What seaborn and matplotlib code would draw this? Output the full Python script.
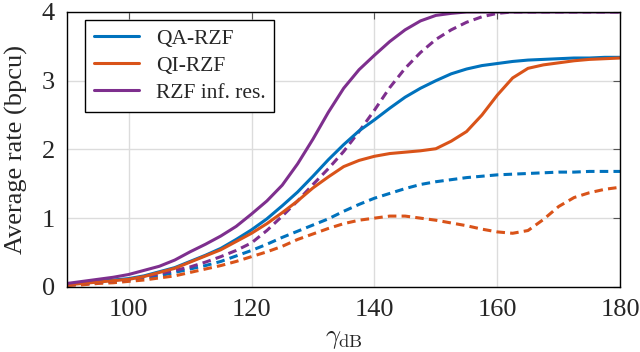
import matplotlib
matplotlib.use("Agg")
import matplotlib.pyplot as plt
import pandas as pd
import seaborn as sns

# SNR axis (dB)
gamma_db = [90, 92.5, 95, 97.5, 100, 102.5, 105, 107.5, 110, 112.5,
            115, 117.5, 120, 122.5, 125, 127.5, 130, 132.5, 135, 137.5,
            140, 142.5, 145, 147.5, 150, 152.5, 155, 157.5, 160, 162.5,
            165, 167.5, 170, 172.5, 175, 177.5, 180]

# solid curves
qa_rzf = [0.04, 0.06, 0.08, 0.10, 0.12, 0.16, 0.22, 0.28, 0.37, 0.46,
          0.56, 0.69, 0.83, 0.99, 1.18, 1.38, 1.61, 1.85, 2.07, 2.27,
          2.43, 2.60, 2.76, 2.89, 3.00, 3.10, 3.17, 3.22, 3.25, 3.28,
          3.30, 3.31, 3.32, 3.33, 3.33, 3.34, 3.34]
qi_rzf = [0.03, 0.05, 0.07, 0.09, 0.11, 0.15, 0.21, 0.27, 0.36, 0.45,
          0.54, 0.66, 0.78, 0.92, 1.08, 1.25, 1.44, 1.60, 1.75, 1.84,
          1.90, 1.94, 1.96, 1.98, 2.01, 2.12, 2.26, 2.50, 2.79, 3.04,
          3.18, 3.23, 3.26, 3.29, 3.31, 3.32, 3.33]
rzf_inf = [0.05, 0.08, 0.11, 0.14, 0.18, 0.24, 0.30, 0.39, 0.51, 0.62,
           0.74, 0.88, 1.06, 1.25, 1.48, 1.79, 2.15, 2.54, 2.89, 3.16,
           3.37, 3.57, 3.74, 3.87, 3.95, 3.98, 4.00, 4.00, 4.00, 4.00,
           4.00, 4.00, 4.00, 4.00, 4.00, 4.00, 4.00]

# dashed curves
qa_rzf_d = [0.03, 0.04, 0.06, 0.08, 0.10, 0.13, 0.16, 0.21, 0.26, 0.31,
            0.37, 0.45, 0.53, 0.62, 0.72, 0.81, 0.90, 0.99, 1.10, 1.20,
            1.29, 1.36, 1.43, 1.49, 1.53, 1.56, 1.59, 1.61, 1.63, 1.64,
            1.65, 1.66, 1.67, 1.67, 1.68, 1.68, 1.68]
qi_rzf_d = [0.02, 0.03, 0.05, 0.06, 0.08, 0.10, 0.13, 0.16, 0.21, 0.26,
            0.31, 0.37, 0.44, 0.51, 0.59, 0.69, 0.77, 0.85, 0.92, 0.97,
            1.00, 1.03, 1.03, 1.00, 0.97, 0.93, 0.89, 0.84, 0.80, 0.78,
            0.82, 0.98, 1.17, 1.30, 1.37, 1.42, 1.45]
rzf_inf_d = [0.03, 0.05, 0.07, 0.09, 0.11, 0.15, 0.19, 0.24, 0.29, 0.36,
             0.44, 0.53, 0.64, 0.82, 1.03, 1.25, 1.49, 1.72, 1.97, 2.26,
             2.57, 2.90, 3.18, 3.41, 3.60, 3.74, 3.85, 3.93, 3.98, 4.00,
             4.00, 4.00, 4.00, 4.00, 4.00, 4.00, 4.00]

labels = ["QA-RZF", "QI-RZF", "RZF inf. res."]
colors = ["#0072BD", "#D95319", "#7E2F8E"]

df = pd.DataFrame({"gamma": gamma_db,
                   "QA-RZF": qa_rzf, "QI-RZF": qi_rzf, "RZF inf. res.": rzf_inf,
                   "QA-RZF d": qa_rzf_d, "QI-RZF d": qi_rzf_d,
                   "RZF inf. res. d": rzf_inf_d})

sns.set_theme(style="whitegrid")
plt.rcParams["font.family"] = ["Liberation Serif", "DejaVu Serif"]
plt.rcParams["mathtext.fontset"] = "cm"

fig, ax = plt.subplots(figsize=(6.4, 3.52), dpi=100)
fig.subplots_adjust(left=0.105, right=0.969, top=0.966, bottom=0.185)

# dashed first so the solid ones sit on top
for lab, col in zip(labels, colors):
    sns.lineplot(data=df, x="gamma", y=lab + " d", ax=ax, color=col,
                 linewidth=2.2, legend=False)
    ax.lines[-1].set_dashes((2.8, 1.7))
for lab, col in zip(labels, colors):
    sns.lineplot(data=df, x="gamma", y=lab, ax=ax, color=col,
                 linewidth=2.2, label=lab)

ax.set_xlim(90, 180)
ax.set_ylim(0, 4)
ax.set_xticks([100, 120, 140, 160, 180])
ax.set_yticks([0, 1, 2, 3, 4])

ax.grid(True, color="#dcdcdc", linewidth=1.0)
for s in ax.spines.values():
    s.set_color("black")
    s.set_linewidth(1.0)
ax.tick_params(direction="in", length=5, width=0.8, color="#555555",
               top=True, right=True, labelsize=19, pad=9)

ax.set_xlabel(r"$\gamma_{\mathrm{dB}}$", fontsize=19, labelpad=5)
ax.set_ylabel("Average rate (bpcu)", fontsize=19, labelpad=10)

leg = ax.legend(loc="upper left", bbox_to_anchor=(0.0325, 0.971),
                borderaxespad=0, fontsize=15.5, fancybox=False,
                frameon=True, edgecolor="black", framealpha=1,
                handlelength=2.1, labelspacing=0.33, borderpad=0.4)
leg.get_frame().set_linewidth(1.0)

plt.savefig("out.png", dpi=100)
